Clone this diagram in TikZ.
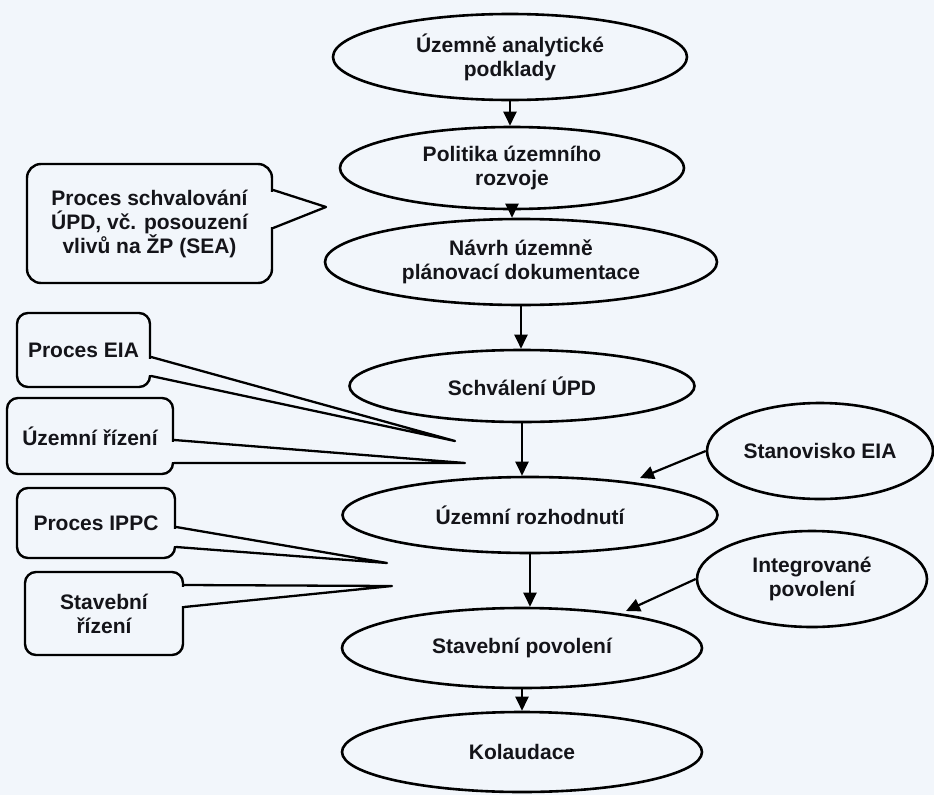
\documentclass[tikz,border=0pt]{standalone}
\usepackage{fontspec}
\setmainfont{Liberation Sans}
\usetikzlibrary{shapes.geometric,arrows.meta}
\definecolor{bg}{RGB}{242,246,251}
\begin{document}
\begin{tikzpicture}[x=1pt,y=-1pt,
  txt/.style={font=\bfseries\fontsize{21}{24}\selectfont, align=center, text={rgb,255:red,20;green,20;blue,25}},
  oval/.style={txt, ellipse, draw=black, line width=2.6pt, inner sep=0pt},
  callbox/.style={txt, rectangle, rounded corners=11pt, draw=black, line width=2.4pt, inner sep=0pt},
  arr/.style={line width=2.2pt, -{Triangle[length=14pt,width=13pt]}},
  tail/.style={line width=2.3pt, line join=round, line cap=round}
]
\fill[bg] (0,0) rectangle (934,795);
\useasboundingbox (0,0) rectangle (934,795);

% main column
\node[oval, minimum width=354pt, minimum height=86pt] (e1) at (510,57) {Územně analytické\\podklady};
\node[oval, minimum width=344pt, minimum height=82pt] (e2) at (512,168) {Politika územního\\rozvoje};
\node[oval, minimum width=392pt, minimum height=86pt] (e3) at (521,262) {Návrh územně\\plánovací dokumentace};
\node[oval, minimum width=345pt, minimum height=72pt] (e4) at (522,386) {Schválení ÚPD};
\node[oval, minimum width=375pt, minimum height=76pt] (e5) at (530,515) {Územní rozhodnutí};
\node[oval, minimum width=360pt, minimum height=80pt] (e6) at (522,648) {Stavební povolení};
\node[oval, minimum width=360pt, minimum height=80pt] (e7) at (522,752) {Kolaudace};

% side ellipses
\node[oval, minimum width=226pt, minimum height=96pt] (se) at (820,451) {Stanovisko EIA};
\node[oval, minimum width=230pt, minimum height=96pt] (ip) at (812,579) {Integrované\\povolení};

% arrows
\draw[arr] (e1.south) -- (e1.south |- e2.north);
\draw[arr] (e2.south) -- (e2.south |- e3.north);
\draw[arr] (e3.south) -- (e3.south |- e4.north);
\draw[arr] (e4.south) -- (e4.south |- e5.north);
\draw[arr] (e5.south) -- (e5.south |- e6.north);
\draw[arr] (e6.south) -- (e6.south |- e7.north);
\coordinate (setip) at (640,478);
\coordinate (iptip) at (626,611);
\draw[arr] (se.west) -- (setip);
\draw[arr] (ip.west) -- (iptip);

% callouts
\node[callbox, rounded corners=14pt, minimum width=245pt, minimum height=119pt] (sea) at (149.5,223.5) {Proces schvalování\\ÚPD, vč. posouzení\\vlivů na ŽP (SEA)};
\node[callbox, minimum width=133pt, minimum height=74pt] (eia) at (83.5,350) {Proces EIA};
\node[callbox, minimum width=166pt, minimum height=76pt] (ur) at (90,436) {Územní řízení};
\node[callbox, minimum width=158pt, minimum height=70pt] (ippc) at (96,523) {Proces IPPC};
\node[callbox, minimum width=158pt, minimum height=83pt] (sr) at (104,613.5) {Stavební\\řízení};

\coordinate (seatip) at (326,207);
\coordinate (eiatip) at (455,441);
\coordinate (urtip) at (465,463);
\coordinate (ippctip) at (387,563);
\coordinate (srtip) at (392,586);

% tail openings
\fill[bg] (268,191.5) rectangle (276,226.5);
\fill[bg] (146,358.5) rectangle (154,374.5);
\fill[bg] (169,441.5) rectangle (177,461.5);
\fill[bg] (171,528.5) rectangle (179,545.5);
\fill[bg] (179,586.5) rectangle (187,605.5);

\draw[tail] (sea.east |- 0,190) -- (seatip) -- (sea.east |- 0,228);
\draw[tail] (eia.east |- 0,357) -- (eiatip) -- (eia.east |- 0,376);
\draw[tail] (ur.east |- 0,440) -- (urtip) -- (ur.east |- 0,463);
\draw[tail] (ippc.east |- 0,527) -- (ippctip) -- (ippc.east |- 0,547);
\draw[tail] (sr.east |- 0,585) -- (srtip) -- (sr.east |- 0,607);
\end{tikzpicture}
\end{document}
